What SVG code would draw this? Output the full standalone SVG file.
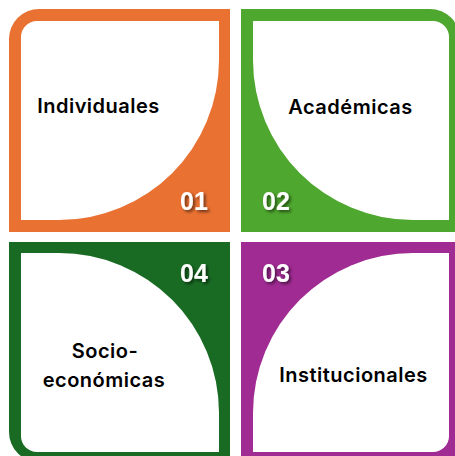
<svg xmlns="http://www.w3.org/2000/svg" width="455" height="456" viewBox="0 0 455 456">
<defs>
<filter id="sh" x="-30%" y="-30%" width="160%" height="160%">
<feDropShadow dx="2" dy="2" stdDeviation="1.5" flood-color="#000" flood-opacity="0.55"/>
</filter>
</defs>
<style>
.card{fill:#ffffff}
.lbl{font-family:Inter,"Liberation Sans",sans-serif;font-weight:600;font-size:20px;letter-spacing:0.5px;fill:#000;text-anchor:middle}
.num{font-family:"Liberation Sans",Arial,sans-serif;font-weight:bold;font-size:25px;fill:#fff;filter:url(#sh)}
</style>
<rect width="455" height="456" fill="#ffffff"/>
<g id="individuales">
<path d="M9,232 V39 A30,30 0 0 1 39,9 H230 V232 Z" fill="#E97132"/>
<path class="card" d="M21,220 V37 A16,16 0 0 1 37,21 H219 V60 A160,160 0 0 1 59,220 Z"/>
<text class="lbl" x="98.5" y="113">Individuales</text>
<text class="num" x="180" y="210">01</text>
</g>
<g id="academicas">
<path d="M241,9 H430 A30,30 0 0 1 460,39 V232 H241 Z" fill="#4EA72E"/>
<path class="card" d="M253,21 H433 A16,16 0 0 1 449,37 V220 H413 A160,160 0 0 1 253,60 Z"/>
<text class="lbl" x="350.5" y="114">Académicas</text>
<text class="num" x="262" y="210">02</text>
</g>
<g id="socioeconomicas">
<path d="M9,242 H230 V462 H39 A30,30 0 0 1 9,432 Z" fill="#196B24"/>
<path class="card" d="M21,253 H59 A160,160 0 0 1 219,413 V452 H37 A16,16 0 0 1 21,436 Z"/>
<text class="lbl" x="105" y="358">Socio-</text>
<text class="lbl" x="104" y="387">económicas</text>
<text class="num" x="180" y="282">04</text>
</g>
<g id="institucionales">
<path d="M241,242 H460 V462 H241 Z" fill="#A02B93"/>
<path class="card" d="M253,452 V413 A160,160 0 0 1 413,253 H449 V436 A16,16 0 0 1 433,452 Z"/>
<text class="lbl" x="353.5" y="382">Institucionales</text>
<text class="num" x="262" y="282">03</text>
</g>
<g id="connectors"/>
</svg>
